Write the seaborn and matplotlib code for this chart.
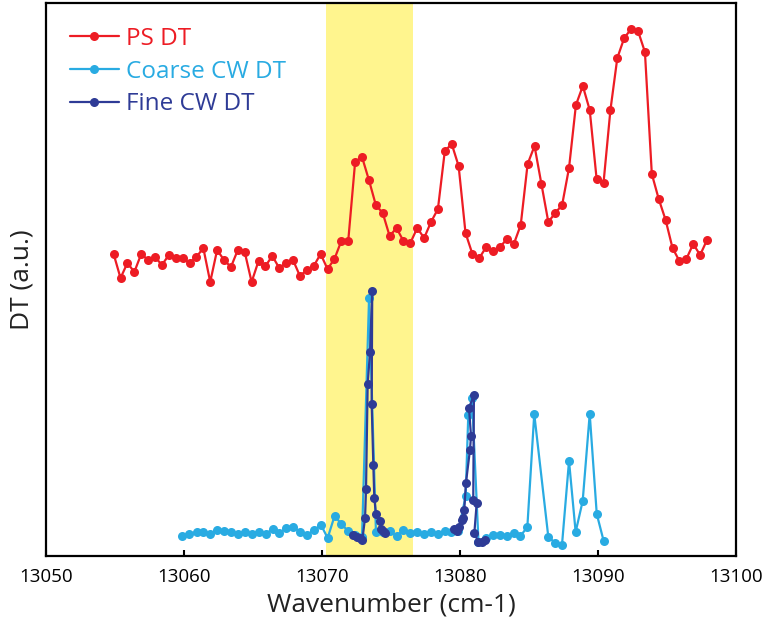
import matplotlib
matplotlib.use("Agg")
import matplotlib.pyplot as plt
import seaborn as sns
import pandas as pd

# ---------------- data ----------------
PS_X = [13054.9, 13055.4, 13055.9, 13056.4, 13056.9, 13057.4, 13057.9, 13058.4, 13058.9, 13059.4,
        13059.9, 13060.4, 13060.9, 13061.4, 13061.9, 13062.4, 13062.9, 13063.4, 13063.9, 13064.4,
        13064.9, 13065.4, 13065.9, 13066.4, 13066.9, 13067.4, 13067.9, 13068.4, 13068.9, 13069.4,
        13069.9, 13070.4, 13070.9, 13071.4, 13071.9, 13072.4, 13072.9, 13073.4, 13073.9, 13074.4,
        13074.9, 13075.4, 13075.9, 13076.4, 13076.9, 13077.4, 13077.9, 13078.4, 13078.9, 13079.4,
        13079.9, 13080.4, 13080.9, 13081.4, 13081.9, 13082.4, 13082.9, 13083.4, 13083.9, 13084.4,
        13084.9, 13085.4, 13085.9, 13086.4, 13086.9, 13087.4, 13087.9, 13088.4, 13088.9, 13089.4,
        13089.9, 13090.4, 13090.9, 13091.4, 13091.9, 13092.4, 13092.9, 13093.4, 13093.9, 13094.4,
        13094.9, 13095.4, 13095.9, 13096.4, 13096.9, 13097.4, 13097.9]
PS_Y = [3.02, 2.78, 2.93, 2.84, 3.02, 2.96, 2.99, 2.91, 3.01, 2.98,
        2.98, 2.93, 2.99, 3.08, 2.74, 3.06, 2.96, 2.89, 3.06, 3.04,
        2.74, 2.95, 2.90, 3.00, 2.88, 2.93, 2.96, 2.80, 2.86, 2.90,
        3.02, 2.87, 2.97, 3.15, 3.15, 3.94, 3.99, 3.76, 3.51, 3.43,
        3.20, 3.28, 3.15, 3.13, 3.28, 3.18, 3.34, 3.47, 4.05, 4.12,
        3.90, 3.23, 3.02, 2.98, 3.09, 3.05, 3.09, 3.17, 3.12, 3.31,
        3.92, 4.10, 3.72, 3.34, 3.43, 3.51, 3.88, 4.51, 4.70, 4.46,
        3.77, 3.73, 4.46, 4.98, 5.18, 5.27, 5.25, 5.04, 3.82, 3.57,
        3.36, 3.08, 2.95, 2.97, 3.12, 3.01, 3.16]

COARSE_X = [13059.88, 13060.38, 13060.92, 13061.40, 13061.91, 13062.41, 13062.92, 13063.41,
            13063.91, 13064.42, 13064.93, 13065.43, 13065.92, 13066.43, 13066.91, 13067.41,
            13067.92, 13068.43, 13068.91, 13069.42, 13069.93, 13070.41, 13070.91, 13071.41,
            13071.88, 13072.39, 13072.90, 13073.41, 13073.91, 13074.42, 13074.93, 13075.41,
            13075.89, 13076.40, 13076.88, 13077.39, 13077.90, 13078.37, 13078.88, 13079.38,
            13079.89, 13080.41, 13080.60, 13080.87, 13081.34, 13081.88, 13082.39, 13082.90,
            13083.41, 13083.88, 13084.38, 13084.88, 13085.38, 13086.40, 13086.91, 13087.39,
            13087.90, 13088.38, 13088.89, 13089.40, 13089.91, 13090.41]
COARSE_Y = [0.20, 0.22, 0.24, 0.24, 0.22, 0.26, 0.25, 0.24,
            0.22, 0.24, 0.22, 0.24, 0.22, 0.27, 0.23, 0.28,
            0.29, 0.24, 0.21, 0.26, 0.31, 0.18, 0.40, 0.32,
            0.25, 0.21, 0.19, 2.58, 0.24, 0.24, 0.25, 0.20,
            0.26, 0.23, 0.24, 0.22, 0.24, 0.22, 0.25, 0.24,
            0.25, 0.60, 1.41, 1.58, 0.14, 0.18, 0.21, 0.21,
            0.20, 0.23, 0.20, 0.29, 1.42, 0.19, 0.13, 0.11,
            0.95, 0.24, 0.55, 1.42, 0.42, 0.15]

FINE1_X = [13072.27, 13072.51, 13072.75, 13072.92, 13073.12, 13073.19, 13073.31, 13073.48,
           13073.64, 13073.60, 13073.72, 13073.79, 13073.91, 13074.20, 13074.28, 13074.44,
           13074.57]
FINE1_Y = [0.21, 0.19, 0.18, 0.16, 0.38, 0.67, 1.72, 2.04,
           2.65, 1.52, 0.91, 0.58, 0.42, 0.35, 0.27, 0.25,
           0.23]
FINE2_X = [13079.59, 13079.76, 13079.93, 13080.12, 13080.24, 13080.31, 13080.43, 13080.72,
           13080.80, 13080.65, 13081.01, 13080.96, 13081.21, 13081.04, 13081.33, 13081.57,
           13081.81]
FINE2_Y = [0.27, 0.25, 0.29, 0.36, 0.38, 0.46, 0.73, 1.06,
           1.20, 1.48, 1.61, 0.56, 0.53, 0.23, 0.14, 0.14,
           0.16]

LABELS = ["PS DT", "Coarse CW DT", "Fine CW DT"]
XTICKS = [13050, 13060, 13070, 13080, 13090, 13100]
BAND = (13070.3, 13076.6)

RED = "#ED1C24"
LIGHT = "#29ABE2"
DARK = "#2E3B96"
YELLOW = "#FFF58E"

# ---------------- plot ----------------
sns.set_theme(style="white")
plt.rcParams["font.family"] = ["Open Sans", "DejaVu Sans"]

fig = plt.figure(figsize=(7.64, 6.19), dpi=100)
ax = fig.add_axes([46 / 764, 63 / 619, 690 / 764, 553 / 619])

ax.axvspan(BAND[0], BAND[1], color=YELLOW, lw=0, zorder=0)

common = dict(marker="o", markersize=6.5, markeredgewidth=0, linewidth=1.6,
              estimator=None, sort=False, ax=ax)

sns.lineplot(x=PS_X, y=PS_Y, color=RED, label=LABELS[0], zorder=3, **common)
sns.lineplot(x=COARSE_X, y=COARSE_Y, color=LIGHT, label=LABELS[1], zorder=4, **common)
sns.lineplot(x=FINE1_X, y=FINE1_Y, color=DARK, label=LABELS[2], zorder=5, **common)
sns.lineplot(x=FINE2_X, y=FINE2_Y, color=DARK, label="_nolegend_", zorder=5, **common)

ax.set_xlim(13050, 13100)
ax.set_ylim(0, 5.53)
ax.set_xticks(XTICKS)
ax.set_xticklabels([str(t) for t in XTICKS])
ax.set_yticks([])
ax.tick_params(axis="x", direction="in", length=4, width=1.5, bottom=True,
               labelsize=13.5, pad=9, colors="black")
for s in ax.spines.values():
    s.set_linewidth(1.6)
    s.set_color("black")
    s.set_visible(True)

ax.set_xlabel("Wavenumber (cm-1)", fontsize=19, color="#222222", labelpad=4)
ax.set_ylabel("DT (a.u.)", fontsize=19, color="#222222", labelpad=8)

leg = ax.legend(loc="upper left", bbox_to_anchor=(0.035, 0.957), frameon=False,
                fontsize=17.5, handlelength=2.0, handletextpad=0.3, labelspacing=0.36,
                labelcolor="linecolor", borderaxespad=0, borderpad=0)

fig.savefig("out.png", dpi=100)
